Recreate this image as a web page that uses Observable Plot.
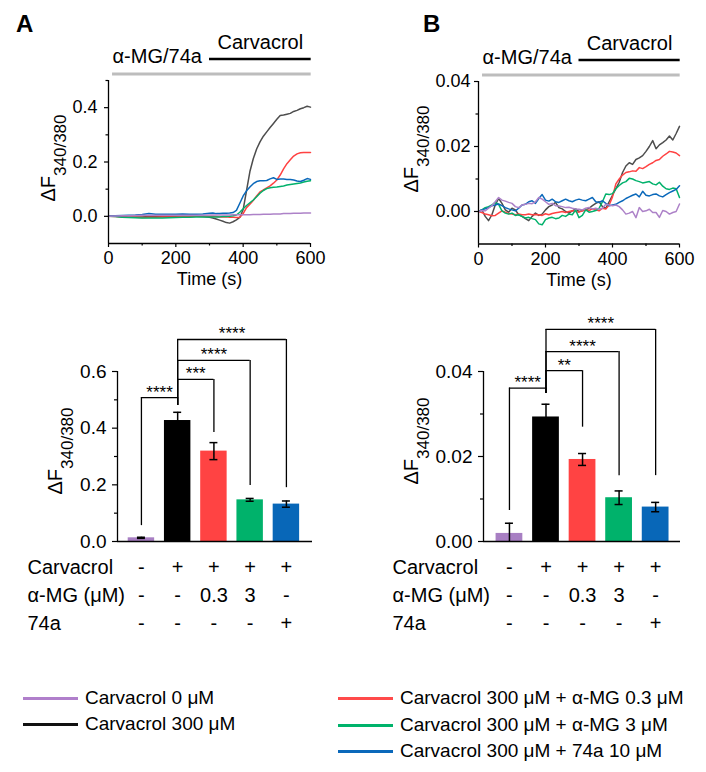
<!DOCTYPE html>
<html>
<head>
<meta charset="utf-8">
<script src="https://cdn.jsdelivr.net/npm/d3@7"></script>
<script src="https://cdn.jsdelivr.net/npm/@observablehq/plot@0.6"></script>
<style>
  body { margin: 0; background: #fff; }
  #fig { position: relative; width: 706px; height: 772px; overflow: hidden; background: #fff;
         font-family: "Liberation Sans", Arial, sans-serif; color: #000; }
  .leg { position: absolute; display: flex; align-items: center; height: 24px; font-size: 19px; white-space: nowrap; }
  .leg span.sw { display: inline-block; width: 55px; height: 0; border-top: 3px solid; margin-right: 7px; }
</style>
</head>
<body>
<div id="fig"></div>
<script>
// ---------------- data ----------------
const conditions = ["Carvacrol 0 μM", "Carvacrol 300 μM", "Carvacrol 300 μM + α-MG 0.3 μM",
                    "Carvacrol 300 μM + α-MG 3 μM", "Carvacrol 300 μM + 74a 10 μM"];
const lineColors = ["#ad82c8", "#4d4d4d", "#ff4242", "#00b16b", "#0a68ba"];
const barColors = ["#a87fc3", "#000000", "#ff4343", "#00b26b", "#0867b8"];
const legendColors = ["#b07fcb", "#111111", "#ff4a4a", "#00b36b", "#0a68ba"];

const stimLabels = ["α-MG/74a", "Carvacrol"];
const stimPre = [12, 602];
const stimCarv = [300, 602];

// Panel A traces (time in s)
const timeA = [0,20,40,60,80,100,120,140,160,180,200,220,240,260,280,300,
  310,320,330,340,350,360,370,380,390,400,410,420,430,440,450,460,470,480,490,500,
  510,520,530,540,550,560,570,580,590,600];
const aCarv0 = [0,0.001,0.002,0.002,0.003,0.004,0.004,0.004,0.004,0.004,0.004,0.004,0.004,0.004,0.004,0.005,
  0.005,0.005,0.005,0.005,0.005,0.005,0.006,0.006,0.006,0.006,0.006,0.006,0.007,0.007,0.007,
  0.008,0.008,0.008,0.009,0.009,0.009,0.010,0.010,0.010,0.011,0.011,0.011,0.012,0.012,0.012];
const aCarv300 = [0,0,-0.001,-0.002,-0.002,-0.002,-0.001,-0.001,-0.001,-0.001,0,0,0,0,-0.001,-0.003,
  -0.006,-0.010,-0.014,-0.018,-0.023,-0.025,-0.020,-0.013,-0.004,0.025,0.095,0.165,0.212,0.248,0.274,
  0.295,0.311,0.327,0.342,0.357,0.371,0.373,0.376,0.379,0.386,0.390,0.396,0.400,0.405,0.402];
const aMG03 = [0,-0.001,-0.002,-0.003,-0.003,-0.004,-0.003,-0.003,-0.002,-0.002,-0.002,-0.001,-0.001,0,0,0,
  0,-0.001,-0.002,-0.002,-0.002,-0.003,-0.003,-0.004,-0.003,0.010,0.032,0.045,0.058,0.075,0.090,
  0.097,0.105,0.112,0.122,0.134,0.152,0.175,0.194,0.208,0.222,0.230,0.234,0.235,0.235,0.235];
const aMG3 = [0,-0.001,-0.003,-0.004,-0.005,-0.006,-0.006,-0.006,-0.006,-0.005,-0.004,-0.003,-0.003,-0.002,-0.002,-0.002,
  -0.002,-0.002,-0.002,-0.001,-0.001,0.000,0.002,0.005,0.015,0.028,0.040,0.050,0.060,0.072,0.085,
  0.095,0.102,0.105,0.107,0.108,0.110,0.112,0.115,0.117,0.119,0.121,0.123,0.126,0.129,0.131];
const a74a = [0,0.002,0.003,0.004,0.005,0.007,0.010,0.008,0.008,0.008,0.008,0.009,0.008,0.008,0.009,0.011,
  0.012,0.010,0.010,0.011,0.011,0.012,0.014,0.022,0.048,0.075,0.094,0.108,0.120,0.128,0.131,
  0.131,0.132,0.138,0.142,0.136,0.137,0.137,0.136,0.136,0.134,0.130,0.128,0.133,0.139,0.136];

// Panel B traces
const timeB = [0,10,20,30,40,50,60,70,80,90,100,110,120,130,140,150,160,170,180,190,
  200,210,220,230,240,250,260,270,280,290,300,310,320,330,340,350,360,370,380,390,
  400,410,420,430,440,450,460,470,480,490,500,510,520,530,540,550,560,570,580,590,600];
const bCarv0 = [0,0.0003,0.0002,0.0010,0.0018,0.0030,0.0043,0.0035,0.0032,0.0028,
  0.0025,0.0015,0.0012,0.0020,0.0022,0.0025,0.0024,0.0030,0.0043,0.0038,
  0.0030,0.0022,0.0025,0.0018,0.0017,0.0015,0.0012,0.0013,0.0010,0.0008,
  0.0007,0.0005,0.0010,0.0012,0.0008,0.0010,0.0007,0.0010,0.0022,0.0020,
  0.0018,0.0020,0.0015,0.0005,-0.0008,-0.0005,0.0000,-0.0019,0.0012,0.0000,
  0.0002,0.0007,-0.0003,-0.0003,-0.0018,0.0003,0.0000,-0.0008,-0.0003,0.0000,0.0023];
const bCarv300 = [0,0.0005,-0.0015,-0.0028,-0.0010,0.0020,0.0040,0.0025,0.0005,-0.0002,
  0.0010,0.0005,-0.0010,-0.0015,-0.0022,-0.0028,-0.0015,-0.0005,-0.0012,-0.0008,
  0.0005,0.0015,0.0020,0.0028,0.0012,0.0008,0.0000,-0.0005,0.0002,0.0008,
  0.0000,0.0002,0.0005,0.0010,0.0018,0.0025,0.0030,0.0015,0.0010,0.0030,
  0.0050,0.0070,0.0090,0.0120,0.0140,0.0150,0.0145,0.0160,0.0165,0.0172,
  0.0185,0.0200,0.0218,0.0193,0.0205,0.0212,0.0220,0.0232,0.0220,0.0240,0.0262];
const bMG03 = [0,-0.0003,-0.0008,-0.0010,-0.0013,-0.0012,-0.0005,0.0002,-0.0002,-0.0006,
  -0.0008,-0.0010,-0.0008,-0.0010,-0.0010,-0.0008,-0.0010,-0.0009,-0.0010,-0.0012,
  -0.0007,-0.0010,-0.0006,-0.0004,-0.0002,0.0000,-0.0003,0.0000,0.0002,0.0000,
  -0.0002,0.0002,0.0005,0.0003,0.0008,0.0005,0.0002,0.0010,0.0008,0.0020,
  0.0045,0.0085,0.0100,0.0112,0.0120,0.0122,0.0125,0.0124,0.0135,0.0132,
  0.0138,0.0145,0.0150,0.0157,0.0160,0.0170,0.0177,0.0185,0.0183,0.0180,0.0172];
const bMG3 = [0,0.0005,0.0012,0.0015,0.0020,0.0028,0.0022,0.0002,-0.0005,-0.0008,
  -0.0005,-0.0012,-0.0010,-0.0015,-0.0020,-0.0018,-0.0022,-0.0025,-0.0038,-0.0041,
  -0.0025,-0.0020,-0.0018,-0.0022,-0.0020,-0.0012,-0.0015,-0.0008,-0.0010,0.0005,
  -0.0019,-0.0012,0.0005,-0.0002,0.0000,0.0003,0.0010,0.0030,0.0054,0.0052,
  0.0055,0.0070,0.0080,0.0088,0.0092,0.0102,0.0100,0.0095,0.0092,0.0088,
  0.0090,0.0092,0.0085,0.0082,0.0090,0.0078,0.0070,0.0068,0.0072,0.0070,0.0043];
const b74a = [0,0.0005,0.0008,0.0012,0.0018,0.0020,0.0023,0.0018,0.0012,0.0008,
  0.0005,0.0002,0.0010,0.0020,0.0022,0.0030,0.0033,0.0025,0.0040,0.0052,
  0.0035,0.0032,0.0038,0.0030,0.0028,0.0033,0.0038,0.0033,0.0030,0.0035,
  0.0038,0.0035,0.0033,0.0038,0.0043,0.0030,0.0028,0.0033,0.0025,0.0018,
  0.0020,0.0022,0.0028,0.0033,0.0040,0.0045,0.0050,0.0054,0.0045,0.0062,
  0.0050,0.0048,0.0052,0.0054,0.0048,0.0045,0.0052,0.0058,0.0063,0.0068,0.0079];

// Bar summaries (mean ± SEM)
const meanA = [0.013, 0.427, 0.319, 0.147, 0.132];
const semA  = [0.002, 0.029, 0.030, 0.005, 0.011];
const meanB = [0.0019, 0.0293, 0.0193, 0.0103, 0.0081];
const semB  = [0.0024, 0.0030, 0.0014, 0.0016, 0.0011];

// Significance comparisons
const sigPairs = [[0, 1], [1, 2], [1, 3], [1, 4]];
const starsA = ["****", "***", "****", "****"];
const starsB = ["****", "**", "****", "****"];
const levelsA = [0.508, 0.572, 0.639, 0.713];
const legBottomA = [0.056, 0.48, 0.385, 0.198, 0.19];
const levelsB = [0.0361, 0.0402, 0.0447, 0.0499];
const legBottomB = [0.0073, 0.0348, 0.0269, 0.0155, 0.0155];

// Treatment table
const rowLabels = ["Carvacrol", "α-MG (μM)", "74a"];
const rowCarvacrol = ["-", "+", "+", "+", "+"];
const rowAMG = ["-", "-", "0.3", "3", "-"];
const row74a = ["-", "-", "-", "-", "+"];
const rowValues = [rowCarvacrol, rowAMG, row74a];

// ---------------- drawing ----------------
const FONT = '"Liberation Sans", Arial, sans-serif';
const fig = document.getElementById("fig");
const baseStyle = {background: "transparent", overflow: "visible", fontFamily: FONT, color: "#000"};
const drawOrder = [1, 2, 3, 4, 0];

function place(el, left, top) {
  el.style.position = "absolute";
  el.style.left = left + "px";
  el.style.top = top + "px";
  el.style.maxWidth = "none";
  fig.appendChild(el);
}

function traceChart({time, series, yDomain, yMajor, yMinor, fmt, mL, mR, mT, mB, tickPad}) {
  const [y0, y1] = yDomain, span = y1 - y0;
  const data = drawOrder.flatMap(k => series[k].map((v, i) => ({t: time[i], v, c: conditions[k]})));
  return Plot.plot({
    width: 353, height: 290, marginLeft: mL, marginRight: mR, marginTop: mT, marginBottom: mB,
    x: {domain: [0, 600]},
    y: {domain: yDomain},
    color: {domain: conditions, range: lineColors},
    style: baseStyle,
    marks: [
      Plot.ruleY([y1 + 0.04 * span], {x1: stimPre[0], x2: stimPre[1], stroke: "#bdbdbd", strokeWidth: 3}),
      Plot.ruleY([y1 + 0.132 * span], {x1: stimCarv[0], x2: stimCarv[1], stroke: "#000", strokeWidth: 2.5}),
      Plot.text([stimLabels[0]], {x: stimPre[0], y: y1 + 0.145 * span, text: d => d, textAnchor: "start", fontSize: 20}),
      Plot.text([stimLabels[1]], {x: (stimCarv[0] + stimCarv[1]) / 2, y: y1 + 0.232 * span, text: d => d, fontSize: 20}),
      Plot.line(data, {x: "t", y: "v", z: "c", stroke: "c", strokeWidth: 1.5}),
      Plot.ruleX([0], {y1: y0, y2: y1, strokeWidth: 1.3}),
      Plot.ruleY([y0], {x1: 0, x2: 600, strokeWidth: 1.3}),
      Plot.axisY({ticks: yMajor, tickFormat: d3.format(fmt), tickSize: 4, tickPadding: tickPad, fontSize: 18, label: null, strokeWidth: 1.2}),
      Plot.axisY({ticks: yMinor, tickFormat: () => "", tickSize: 2.5, label: null, strokeWidth: 1.2}),
      Plot.axisX({ticks: [0, 200, 400, 600], tickFormat: d => d, tickSize: 4, tickPadding: 4, fontSize: 18, label: null, strokeWidth: 1.2}),
      Plot.axisX({ticks: [100, 300, 500], tickFormat: () => "", tickSize: 2.5, label: null, strokeWidth: 1.2}),
      Plot.text(["Time (s)"], {text: d => d, frameAnchor: "bottom", lineAnchor: "middle", dy: 36, fontSize: 18})
    ]
  });
}

function barChart({means, sems, yMax, yMajor, yMinor, fmt, levels, legBottom, stars, xDom, mL, mR}) {
  const idx = d3.range(means.length);
  const lowCaps = idx.filter(i => means[i] - sems[i] > 0);
  const br = sigPairs.map(([a, b], j) => ({a, b, level: levels[j], stars: stars[j]}));
  const capHalf = 0.11;
  return Plot.plot({
    width: 353, height: 260, marginLeft: mL, marginRight: mR, marginTop: 81, marginBottom: 9,
    x: {domain: xDom, axis: null},
    y: {domain: [0, yMax], axis: null},
    color: {domain: conditions, range: barColors},
    style: baseStyle,
    marks: [
      Plot.rect(idx, {x1: i => i - 0.5, x2: i => i + 0.5, y1: 0, y2: i => means[i], fill: i => conditions[i], insetLeft: 4.9, insetRight: 4.9}),
      Plot.ruleX(idx, {x: i => i, y1: i => Math.max(0, means[i] - sems[i]), y2: i => means[i] + sems[i], strokeWidth: 1.5}),
      Plot.ruleY(idx, {y: i => means[i] + sems[i], x1: i => i - capHalf, x2: i => i + capHalf, strokeWidth: 1.5}),
      Plot.ruleY(lowCaps, {y: i => means[i] - sems[i], x1: i => i - capHalf, x2: i => i + capHalf, strokeWidth: 1.5}),
      Plot.ruleX(br, {x: "a", y1: d => legBottom[d.a], y2: "level", strokeWidth: 1.3}),
      Plot.ruleX(br, {x: "b", y1: d => legBottom[d.b], y2: "level", strokeWidth: 1.3}),
      Plot.ruleY(br, {y: "level", x1: "a", x2: "b", strokeWidth: 1.3}),
      Plot.text(br, {x: d => (d.a + d.b) / 2, y: "level", text: "stars", lineAnchor: "bottom", fontSize: 17}),
      Plot.ruleX([xDom[0]], {y1: 0, y2: yMax, strokeWidth: 1.3}),
      Plot.ruleY([0], {x1: xDom[0], x2: xDom[1], strokeWidth: 1.3}),
      Plot.axisY({ticks: yMajor, tickFormat: d3.format(fmt), tickSize: 5, tickPadding: 6, fontSize: 19, label: null, strokeWidth: 1.2}),
      Plot.axisY({ticks: yMinor, tickFormat: () => "", tickSize: 3, label: null, strokeWidth: 1.2})
    ]
  });
}

function tableChart({xDom, mL, mR, labelDx}) {
  const cells = rowLabels.flatMap((r, ri) => rowValues[ri].map((v, i) => ({r, i, v})));
  return Plot.plot({
    width: 353, height: 90, marginLeft: mL, marginRight: mR, marginTop: 17, marginBottom: 17,
    x: {domain: xDom, axis: null},
    y: {type: "point", domain: rowLabels, padding: 0, axis: null},
    style: baseStyle,
    marks: [
      Plot.text(cells, {x: "i", y: "r", text: "v", fontSize: 20}),
      Plot.text(rowLabels, {y: d => d, text: d => d, frameAnchor: "left", textAnchor: "start", dx: labelDx, fontSize: 20})
    ]
  });
}

const xDomA = [-0.66, 4.72], xDomB = [-0.71, 4.68];

place(traceChart({time: timeA, series: [aCarv0, aCarv300, aMG03, aMG3, a74a], yDomain: [-0.1, 0.5],
  yMajor: [0, 0.2, 0.4], yMinor: [0.1, 0.3, 0.5], fmt: ".1f", mL: 108, mR: 43, mT: 80, mB: 47, tickPad: 7}), 0, 0);
place(traceChart({time: timeB, series: [bCarv0, bCarv300, bMG03, bMG3, b74a], yDomain: [-0.01, 0.04],
  yMajor: [0, 0.02, 0.04], yMinor: [0.01, 0.03], fmt: ".2f", mL: 125, mR: 27, mT: 81, mB: 46.5, tickPad: 4}), 353, 0);
place(barChart({means: meanA, sems: semA, yMax: 0.6, yMajor: [0, 0.2, 0.4, 0.6], yMinor: [0.1, 0.3, 0.5], fmt: ".1f",
  levels: levelsA, legBottom: legBottomA, stars: starsA, xDom: xDomA, mL: 117, mR: 41}), 0, 290);
place(barChart({means: meanB, sems: semB, yMax: 0.04, yMajor: [0, 0.02, 0.04], yMinor: [0.01, 0.03], fmt: ".2f",
  levels: levelsB, legBottom: legBottomB, stars: starsB, xDom: xDomB, mL: 130, mR: 26}), 353, 290);
place(tableChart({xDom: xDomA, mL: 117, mR: 41, labelDx: -90}), 0, 550);
place(tableChart({xDom: xDomB, mL: 130, mR: 26, labelDx: -91}), 353, 550);

// Overlay: panel letters and y-axis titles with subscripts
const ov = d3.create("svg").attr("width", 706).attr("height", 772)
  .style("position", "absolute").style("left", "0px").style("top", "0px")
  .style("pointer-events", "none").style("font-family", FONT);
[["A", 16], ["B", 423]].forEach(([t, x]) =>
  ov.append("text").attr("x", x).attr("y", 32).attr("font-size", 24).attr("font-weight", "bold").text(t));
[[55, 158], [62, 451], [418, 149], [418, 441]].forEach(([x, y]) => {
  const t = ov.append("text").attr("transform", `translate(${x},${y}) rotate(-90)`)
    .attr("text-anchor", "middle").attr("font-size", 20);
  t.append("tspan").text("ΔF");
  t.append("tspan").attr("font-size", 17).attr("dy", 11).text("340/380");
});
fig.appendChild(ov.node());

// Legend
const legendPos = [[23, 686], [23, 712], [338, 686], [338, 713], [338, 739]];
conditions.forEach((c, i) => {
  const d = document.createElement("div");
  d.className = "leg";
  d.style.left = legendPos[i][0] + "px";
  d.style.top = legendPos[i][1] + "px";
  const sw = document.createElement("span");
  sw.className = "sw";
  sw.style.borderTopColor = legendColors[i];
  d.appendChild(sw);
  d.appendChild(document.createTextNode(c));
  fig.appendChild(d);
});
</script>
</body>
</html>
